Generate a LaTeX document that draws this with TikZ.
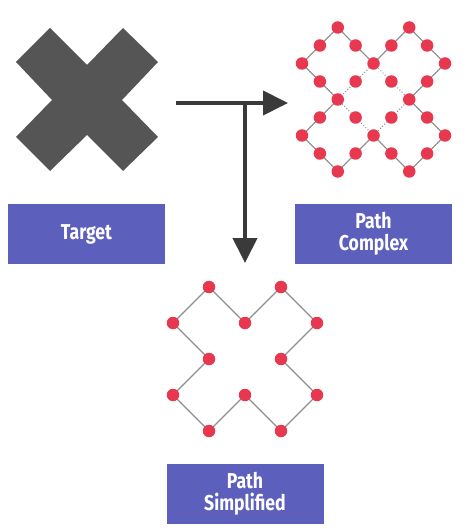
\documentclass[tikz,border=0pt]{standalone}
\usepackage{fontspec}
\setmainfont{Fira Sans}[FakeStretch=0.82]
\usepackage{tikz}
\usetikzlibrary{positioning}
\usetikzlibrary{arrows.meta}
\usetikzlibrary{backgrounds}
\definecolor{boxblue}{HTML}{5C5FBB}
\definecolor{dotred}{HTML}{E8384F}
\definecolor{crossgray}{HTML}{555555}
\definecolor{arrowgray}{HTML}{3A3A3A}
\definecolor{linegray}{HTML}{8E8E8E}

\begin{document}
\begin{tikzpicture}[x=1pt, y=-1pt,
                          labelbox/.style={rectangle, fill=boxblue, text=white, font=\bfseries\fontsize{21.5}{22}\selectfont, align=center, minimum width=157pt, minimum height=60pt, inner sep=0pt},
                          dotnode/.style={circle, fill=dotred, minimum size=12.5pt, inner sep=0pt},
                          pathline/.style={draw=linegray, line width=1.1pt},
                          dottedline/.style={draw=linegray, line width=1pt, dotted},
                          bigarrow/.style={draw=arrowgray, line width=4pt, -{Triangle[length=25pt,width=24pt]}},
                      ]
                      \useasboundingbox (0,0) rectangle (469,529);

                      %Target shape
                      \fill[crossgray] (50,28) -- (87,65) -- (123,28) -- (158,62) -- (122,100) -- (158,137)
                                       -- (123,171) -- (87,135) -- (50,171) -- (16,137) -- (52,100) -- (16,62) -- cycle;

                      %Nodes
                      \node[labelbox]      (target)     at (86.5,234)   {Target};
                      \node[labelbox]      (complex)    at (373.5,234)  {Path\\Complex};
                      \node[labelbox]      (simplified) at (245,493.5)  {Path\\Simplified};

                      \coordinate (start)       at (176,103);
                      \coordinate (split)       at (245,103);
                      \coordinate (complextip)  at (288,103);
                      \coordinate (simpletip)   at (245,263);

                      % complex path: corners, midpoints, inner points
                      \begin{scope}[shift={(302,27.5)}, x=35.75pt, y=-36pt]
                        \foreach \name/\pos in {c1/{(1,0)}, c2/{(2,1)}, c3/{(3,0)}, c4/{(4,1)}, c5/{(3,2)}, c6/{(4,3)},
                                                c7/{(3,4)}, c8/{(2,3)}, c9/{(1,4)}, c10/{(0,3)}, c11/{(1,2)}, c12/{(0,1)},
                                                m1/{(1.5,0.5)}, m2/{(2.5,0.5)}, m3/{(3.5,0.5)}, m4/{(3.5,1.5)}, m5/{(3.5,2.5)}, m6/{(3.5,3.5)},
                                                m7/{(2.5,3.5)}, m8/{(1.5,3.5)}, m9/{(0.5,3.5)}, m10/{(0.5,2.5)}, m11/{(0.5,1.5)}, m12/{(0.5,0.5)},
                                                i1/{(1.5,1.5)}, i2/{(2.5,1.5)}, i3/{(1.5,2.5)}, i4/{(2.5,2.5)}}
                          \node[dotnode] (\name) at \pos {};
                      \end{scope}

                      % simplified path: corners only
                      \begin{scope}[shift={(173,287)}, x=36pt, y=-36pt]
                        \foreach \name/\pos in {s1/{(1,0)}, s2/{(2,1)}, s3/{(3,0)}, s4/{(4,1)}, s5/{(3,2)}, s6/{(4,3)},
                                                s7/{(3,4)}, s8/{(2,3)}, s9/{(1,4)}, s10/{(0,3)}, s11/{(1,2)}, s12/{(0,1)}}
                          \node[dotnode] (\name) at \pos {};
                      \end{scope}

                      %Lines
                      \begin{scope}[on background layer]
                        \draw[pathline] (c1.center) -- (m1.center) -- (c2.center) -- (m2.center) -- (c3.center) -- (m3.center)
                                        -- (c4.center) -- (m4.center) -- (c5.center) -- (m5.center) -- (c6.center) -- (m6.center)
                                        -- (c7.center) -- (m7.center) -- (c8.center) -- (m8.center) -- (c9.center) -- (m9.center)
                                        -- (c10.center) -- (m10.center) -- (c11.center) -- (m11.center) -- (c12.center) -- (m12.center) -- cycle;
                        \draw[dottedline, shift={(-1.5,2.5)}] (c1.center) -- (c2.center) -- (c3.center) -- (c4.center) -- (c5.center) -- (c6.center)
                                        -- (c7.center) -- (c8.center) -- (c9.center) -- (c10.center) -- (c11.center) -- (c12.center) -- cycle;
                        \draw[dottedline] (c2.center) -- (i1.center) -- (c11.center) -- (i3.center) -- (c8.center)
                                        -- (i4.center) -- (c5.center) -- (i2.center) -- cycle;
                        \draw[pathline] (s1.center) -- (s2.center) -- (s3.center) -- (s4.center) -- (s5.center) -- (s6.center)
                                        -- (s7.center) -- (s8.center) -- (s9.center) -- (s10.center) -- (s11.center) -- (s12.center) -- cycle;
                      \end{scope}

                      \draw[bigarrow] (start) -- (complextip);
                      \draw[bigarrow] (split) -- (simpletip);
                  \end{tikzpicture}
\end{document}
